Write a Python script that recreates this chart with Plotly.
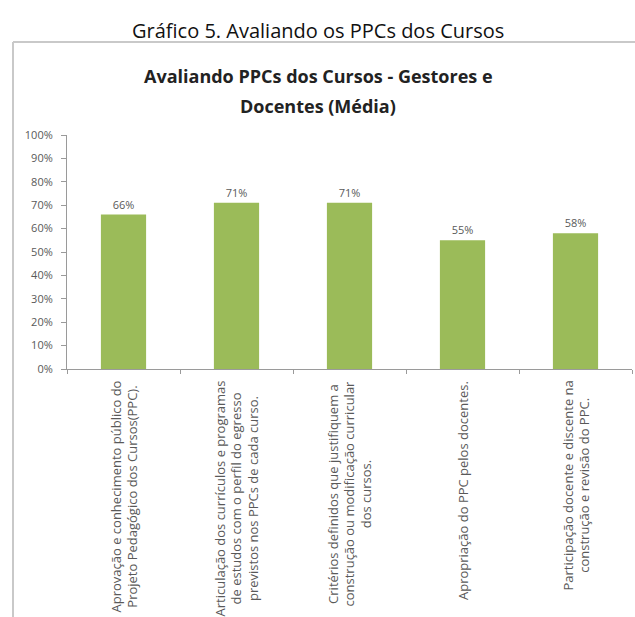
import plotly.graph_objects as go

# Avaliação dos PPCs – médias de gestores e docentes
categorias = [
    "Aprovação e conhecimento público do<br>Projeto Pedagógico dos Cursos(PPC).",
    "Articulação dos currículos e programas<br>de estudos com o perfil do egresso<br>previstos nos PPCs de cada curso.",
    "Critérios definidos que justifiquem a<br>construção ou modificação curricular<br>dos cursos.",
    "Apropriação do PPC pelos docentes.",
    "Participação docente e discente na<br>construção e revisão do PPC.",
]
medias = [0.66, 0.71, 0.71, 0.55, 0.58]
rotulos = ["66%", "71%", "71%", "55%", "58%"]
ticks_y = [0, 0.1, 0.2, 0.3, 0.4, 0.5, 0.6, 0.7, 0.8, 0.9, 1.0]
ticks_y_txt = ["0%", "10%", "20%", "30%", "40%", "50%", "60%", "70%", "80%", "90%", "100%"]
titulo_linhas = ["Avaliando PPCs dos Cursos - Gestores e", "Docentes (Média)"]

W, H = 635, 617
ML, MR, MT, MB = 67, 3, 135, 248
FONT = "Open Sans"
CINZA = "#595959"

x_idx = list(range(len(categorias)))

fig = go.Figure()
fig.add_trace(go.Bar(
    x=x_idx,
    y=medias,
    marker=dict(color="#9bbb59", line=dict(width=0)),
    text=rotulos,
    textposition="outside",
    textfont=dict(family=FONT, size=11, color=CINZA),
    cliponaxis=False,
    width=0.4,
))

# rótulos das categorias, na vertical e centralizados
for i, cat in enumerate(categorias):
    fig.add_annotation(
        x=i, xref="x", y=0, yref="paper", yshift=-10,
        text=cat, textangle=-90, showarrow=False,
        xanchor="center", yanchor="top", align="center",
        font=dict(family=FONT, size=13, color=CINZA),
    )

plot_h = H - MT - MB
plot_w = W - ML - MR

def py(px):
    return (H - MB - px) / plot_h

def pxr(px):
    return (px - ML) / plot_w

# título externo
fig.add_annotation(
    x=pxr(318), y=py(30), xref="paper", yref="paper",
    text="Gráfico 5. Avaliando os PPCs dos Cursos", showarrow=False,
    xanchor="center", yanchor="middle",
    font=dict(family=FONT, size=20, color="#111111"),
)
# título do gráfico, em duas linhas
for linha, ypix in zip(titulo_linhas, [76, 106]):
    fig.add_annotation(
        x=pxr(318), y=py(ypix), xref="paper", yref="paper",
        text=f"<b>{linha}</b>", showarrow=False,
        xanchor="center", yanchor="middle",
        font=dict(family=FONT, size=18, color="#222222"),
    )

# moldura da área do gráfico
borda = dict(color="#c9c9c9", width=2)
fig.add_shape(type="line", xref="paper", yref="paper",
              x0=pxr(13), x1=pxr(640), y0=py(42), y1=py(42), line=borda)
fig.add_shape(type="line", xref="paper", yref="paper",
              x0=pxr(13), x1=pxr(13), y0=py(42), y1=py(625), line=borda)

fig.update_layout(
    width=W, height=H,
    margin=dict(l=ML, r=MR, t=MT, b=MB),
    paper_bgcolor="white", plot_bgcolor="white",
    showlegend=False,
    bargap=0.6,
)
fig.update_xaxes(
    type="linear", range=[-0.5, len(categorias) - 0.5],
    tickvals=[i - 0.5 for i in range(len(categorias) + 1)],
    showticklabels=False, ticks="outside", ticklen=4, tickcolor="#9a9a9a",
    showline=True, linecolor="#9a9a9a", linewidth=1, showgrid=False, zeroline=False,
)
fig.update_yaxes(
    range=[0, 1], tickvals=ticks_y, ticktext=ticks_y_txt,
    ticks="outside", ticklen=5, tickcolor="#9a9a9a",
    showline=True, linecolor="#9a9a9a", linewidth=1, showgrid=False, zeroline=False,
    tickfont=dict(family=FONT, size=11, color=CINZA),
    ticklabelstandoff=6,
)

fig.write_html("out.html")
